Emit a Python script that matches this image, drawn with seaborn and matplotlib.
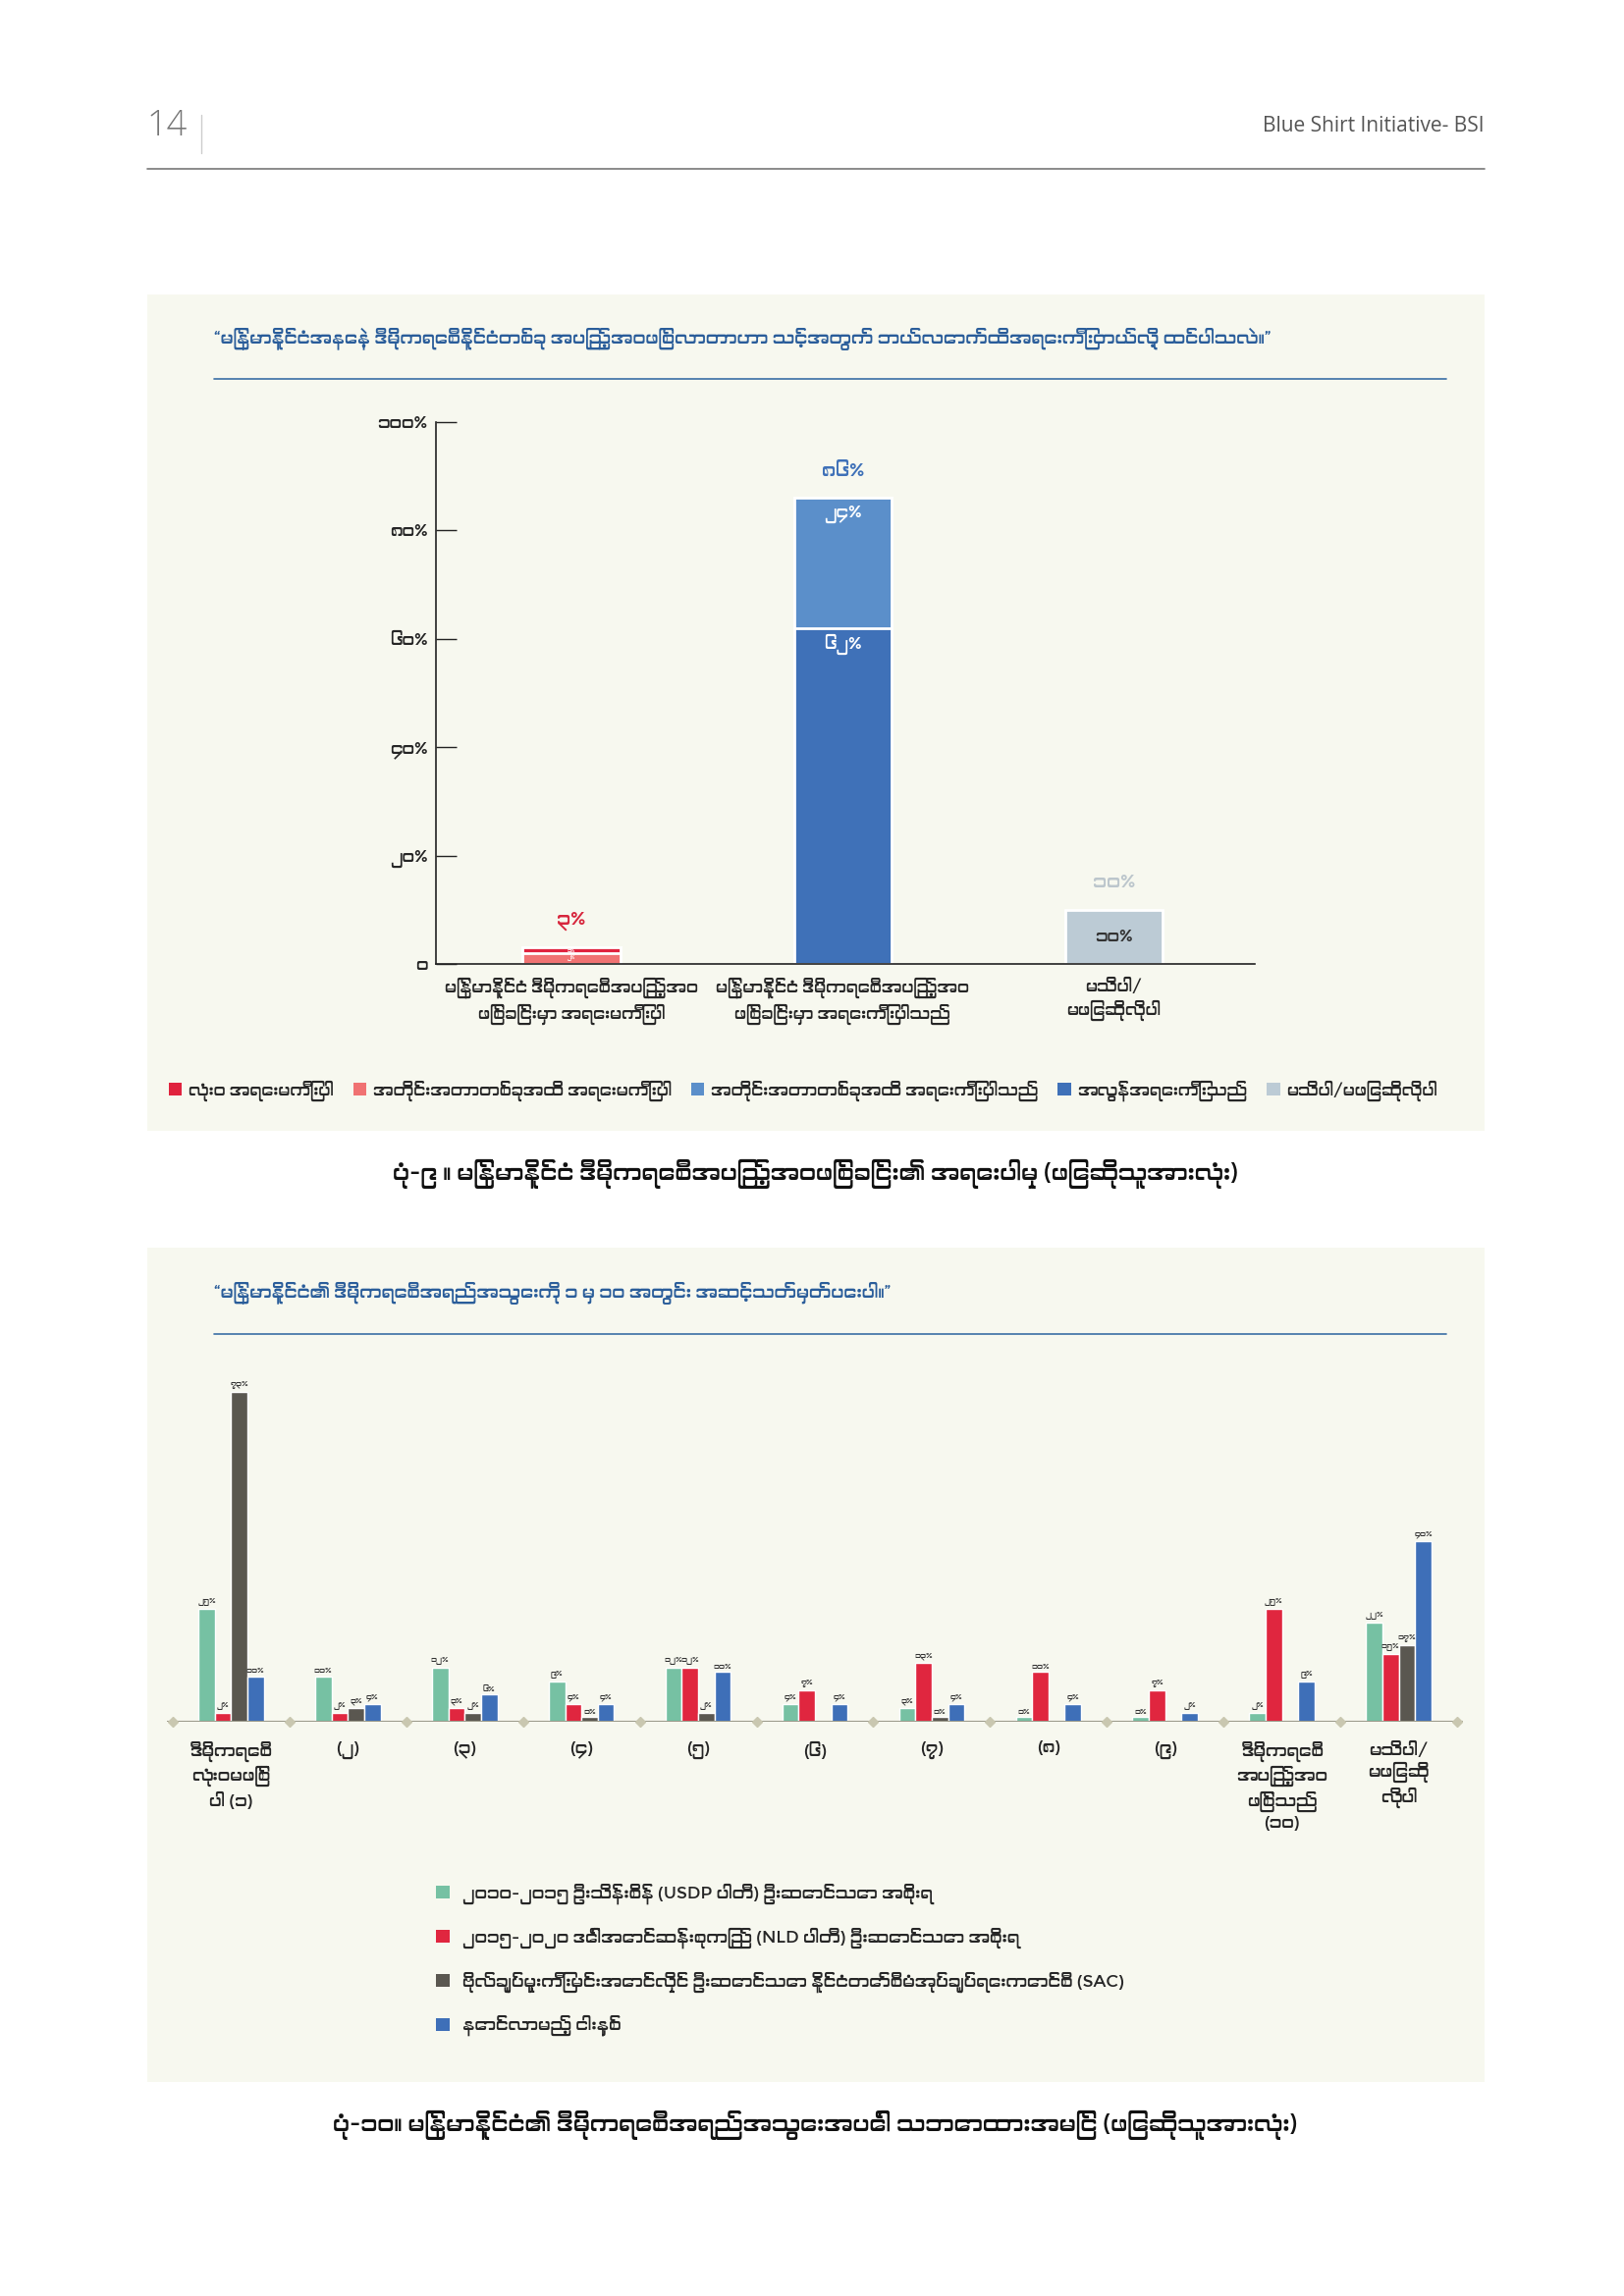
import numpy as np
import pandas as pd
import matplotlib
matplotlib.use("Agg")
import matplotlib.pyplot as plt
import seaborn as sns
from matplotlib import font_manager
from matplotlib.patches import Rectangle, Patch
from matplotlib.lines import Line2D


# Myanmar digits for labels
MY_DIGITS = str.maketrans("0123456789", "၀၁၂၃၄၅၆၇၈၉")


def to_my(n):
    return str(n).translate(MY_DIGITS)


# ---- chart 1 data: importance of full democracy ----
cats1 = ["မြန်မာနိုင်ငံ ဒီမိုကရေစီအပြည့်အဝ\nဖြစ်ခြင်းမှာ အရေးမကြီးပါ",
         "မြန်မာနိုင်ငံ ဒီမိုကရေစီအပြည့်အဝ\nဖြစ်ခြင်းမှာ အရေးကြီးပါသည်",
         "မသိပါ/\nမဖြေဆိုလိုပါ"]
not_at_all = [1, 0, 0]
somewhat_not = [2, 0, 0]
somewhat_imp = [0, 24, 0]
very_imp = [0, 62, 0]
dont_know = [0, 0, 10]
legend1 = ["လုံး၀ အရေးမကြီးပါ", "အတိုင်းအတာတစ်ခုအထိ အရေးမကြီးပါ",
           "အတိုင်းအတာတစ်ခုအထိ အရေးကြီးပါသည်", "အလွန်အရေးကြီးသည်",
           "မသိပါ/မဖြေဆိုလိုပါ"]
colors1 = ["#e0233e", "#f07272", "#5b8fca", "#3f71b8", "#bccbd5"]

# ---- chart 2 data: democracy rating 1-10 ----
groups2 = ["ဒီမိုကရေစီ\nလုံး၀မဖြစ်\nပါ (၁)", "(၂)", "(၃)", "(၄)", "(၅)", "(၆)", "(၇)", "(၈)", "(၉)",
           "ဒီမိုကရေစီ\nအပြည့်အ၀\nဖြစ်သည်\n(၁၀)", "မသိပါ/\nမဖြေဆို\nလိုပါ"]
usdp = [25, 10, 12, 9, 12, 4, 3, 1, 1, 2, 22]
nld = [2, 2, 3, 4, 12, 7, 13, 11, 7, 25, 15]
sac = [73, 3, 2, 1, 2, 0, 1, 0, 0, 0, 17]
next5 = [10, 4, 6, 4, 11, 4, 4, 4, 2, 9, 40]
series2 = ["၂၀၁၀-၂၀၁၅ ဦးသိန်းစိန် (USDP ပါတီ) ဦးဆောင်သော အစိုးရ",
           "၂၀၁၅-၂၀၂၀ ဒေါ်အောင်ဆန်းစုကြည် (NLD ပါတီ) ဦးဆောင်သော အစိုးရ",
           "ဗိုလ်ချုပ်မှူးကြီးမင်းအောင်လှိုင် ဦးဆောင်သော နိုင်ငံတော်စီမံအုပ်ချုပ်ရေးကောင်စီ (SAC)",
           "နောင်လာမည့် ငါးနှစ်"]
colors2 = ["#76c1a3", "#e0263f", "#5a5750", "#3e6fb8"]

title1 = "“မြန်မာနိုင်ငံအနေနဲ့ ဒီမိုကရေစီနိုင်ငံတစ်ခု အပြည့်အဝဖြစ်လာတာဟာ သင့်အတွက် ဘယ်လောက်ထိအရေးကြီးတယ်လို့ ထင်ပါသလဲ။”"
title2 = "“မြန်မာနိုင်ငံ၏ ဒီမိုကရေစီအရည်အသွေးကို ၁ မှ ၁၀ အတွင်း အဆင့်သတ်မှတ်ပေးပါ။”"
caption1 = "ပုံ-၉ ။ မြန်မာနိုင်ငံ ဒီမိုကရေစီအပြည့်အဝဖြစ်ခြင်း၏ အရေးပါမှု (ဖြေဆိုသူအားလုံး)"
caption2 = "ပုံ-၁၀။ မြန်မာနိုင်ငံ၏ ဒီမိုကရေစီအရည်အသွေးအပေါ် သဘောထားအမြင် (ဖြေဆိုသူအားလုံး)"

sns.set_theme(style="white")
my_fonts = sorted({f.name for f in font_manager.fontManager.ttflist
                   if "Myanmar" in f.name or "Padauk" in f.name})
plt.rcParams['font.family'] = my_fonts[:1] + ['Noto Sans', 'DejaVu Sans']

W, H = 1654, 2339
fig = plt.figure(figsize=(W / 100, H / 100), dpi=100)
fig.patch.set_facecolor("white")


def fx(x):
    return x / W


def fy(y):
    return 1 - y / H


def add_ax(x0, y0, x1, y1):
    return fig.add_axes([fx(x0), fy(y1), fx(x1 - x0), (y1 - y0) / H])


# page header
fig.text(fx(150), fy(128), "14", fontsize=26, color="#777777", family="Open Sans",
         fontweight="light", va="center", ha="left")
fig.add_artist(Line2D([fx(205), fx(205)], [fy(117), fy(156)], color="#cccccc", lw=1))
fig.text(fx(1512), fy(128), "Blue Shirt Initiative- BSI", fontsize=15, color="#555555",
         family="Open Sans", va="center", ha="right")
fig.add_artist(Line2D([fx(150), fx(1512)], [fy(172), fy(172)], color="#777777", lw=1.2))

# panel backgrounds
panel_color = "#f7f8ef"
for top, bottom in [(300, 1152), (1271, 2121)]:
    fig.add_artist(Rectangle((fx(150), fy(bottom)), fx(1362), (bottom - top) / H,
                             facecolor=panel_color, edgecolor="none", zorder=0))

# panel titles
for ty, ly, txt in [(345, 386, title1), (1317, 1359, title2)]:
    fig.text(fx(218), fy(ty), txt, fontsize=13, color="#2a5d9a", style="italic",
             va="center", ha="left")
    fig.add_artist(Line2D([fx(218), fx(1473)], [fy(ly), fy(ly)], color="#3a6ea5", lw=1.2))

# ---- chart 1 ----
ax1 = add_ax(444, 430, 1278, 982)
ax1.set_facecolor("none")
layers = [somewhat_not, not_at_all, very_imp, somewhat_imp, dont_know]
layer_colors = [colors1[1], colors1[0], colors1[3], colors1[2], colors1[4]]
tops = np.cumsum(np.array(layers), axis=0)
# draw tallest cumulative layer first, so lower segments sit on top
for i in range(len(layers) - 1, -1, -1):
    sns.barplot(x=list(range(3)), y=tops[i], color=layer_colors[i], width=0.36,
                edgecolor="white", linewidth=2, saturation=1, ax=ax1)
ax1.set_xlim(-0.5, 2.52)
ax1.set_ylim(0, 100)
ax1.set_yticks([0, 20, 40, 60, 80, 100])
ax1.set_yticklabels(["၀"] + [to_my(v) + "%" for v in [20, 40, 60, 80, 100]])
ax1.set_xticks(range(3))
ax1.set_xticklabels(cats1, fontsize=12, linespacing=1.35)
ax1.tick_params(axis="y", direction="in", length=15, width=1, color="#222222",
                labelsize=12.5, pad=6, left=True)
ax1.tick_params(axis="x", length=0, pad=10)
for s in ["top", "right"]:
    ax1.spines[s].set_visible(False)
for s in ["left", "bottom"]:
    ax1.spines[s].set_color("#222222")
    ax1.spines[s].set_linewidth(1.2)
ax1.set_xlabel("")
ax1.set_ylabel("")

# segment labels inside bars
for i in range(len(layers)):
    for j in range(3):
        v = layers[i][j]
        if v == 0:
            continue
        top = tops[i][j]
        if v >= 20:
            ax1.text(j, top - 3, to_my(v) + "%", ha="center", va="center",
                     color="white", fontsize=12.5)
        elif layer_colors[i] == colors1[4]:
            ax1.text(j, top / 2, to_my(v) + "%", ha="center", va="center",
                     color="#333333", fontsize=12.5)
        else:
            ax1.text(j, top - v / 2, to_my(v) + "%", ha="center", va="center",
                     color="white", fontsize=4)

totals = tops[-1]
total_colors = ["#d7263d", "#3f71b8", "#bcc6cc"]
for j in range(3):
    ax1.text(j, totals[j] + 5, to_my(int(totals[j])) + "%", ha="center", va="center",
             color=total_colors[j], fontsize=14, fontweight="bold")

handles1 = [Patch(facecolor=c, edgecolor="none") for c in colors1]
fig.legend(handles1, legend1, loc="center", bbox_to_anchor=(fx(818), fy(1111)), ncol=5,
           frameon=False, fontsize=12, handlelength=0.8, handleheight=0.8,
           handletextpad=0.4, columnspacing=1.2)

fig.text(fx(830), fy(1196), caption1, fontsize=17, color="#111111", ha="center", va="center")

# ---- chart 2 ----
df2 = pd.DataFrame({
    "group": np.tile(np.arange(len(groups2)), 4),
    "series": np.repeat(series2, len(groups2)),
    "value": usdp + nld + sac + next5,
})
ax2 = add_ax(170, 1386, 1490, 1754)
ax2.set_facecolor("none")
sns.barplot(data=df2, x="group", y="value", hue="series", hue_order=series2,
            palette=colors2, width=0.56, saturation=1, edgecolor="white", linewidth=1,
            legend=False, ax=ax2)
ax2.set_xlim(-0.55, 10.55)
ax2.set_ylim(0, 80)
for k, cont in enumerate(ax2.containers):
    vals = df2[df2["series"] == series2[k]]["value"].tolist()
    ax2.bar_label(cont, labels=[to_my(v) + "%" if v > 0 else "" for v in vals],
                  fontsize=6, color="#333333", padding=2)
ax2.axhline(0, color="#9c9b8c", lw=1.5, zorder=1)
ax2.plot(np.arange(-0.5, 11), np.zeros(12), "D", color="#c9c7b0", markersize=5,
         clip_on=False, zorder=3)
ax2.set_xticks(range(len(groups2)))
ax2.set_xticklabels(groups2, fontsize=12.5, va="top", linespacing=1.3)
ax2.tick_params(axis="x", length=0, pad=14)
ax2.set_yticks([])
for s in ax2.spines.values():
    s.set_visible(False)
ax2.set_xlabel("")
ax2.set_ylabel("")

handles2 = [Patch(facecolor=c, edgecolor="none") for c in colors2]
fig.legend(handles2, series2, loc="upper left", bbox_to_anchor=(fx(428), fy(1903)), ncol=1,
           frameon=False, fontsize=12.5, handlelength=0.8, handleheight=0.8,
           handletextpad=0.8, labelspacing=1.35)

fig.text(fx(830), fy(2165), caption2, fontsize=17, color="#111111", ha="center", va="center")

fig.savefig("out.png", dpi=100, facecolor="white")
